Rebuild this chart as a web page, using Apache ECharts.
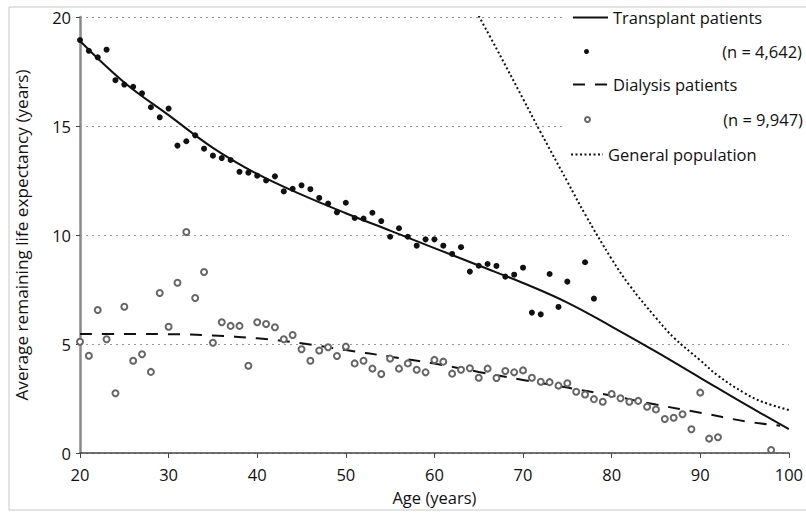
<!DOCTYPE html>
<html>
<head>
<meta charset="utf-8">
<script src="https://cdn.jsdelivr.net/npm/echarts@6/dist/echarts.min.js"></script>
<style>
  html, body { margin: 0; padding: 0; background: #fff; }
  #chart { width: 806px; height: 517px; }
</style>
</head>
<body>
<div id="chart"></div>
<script>
// 移植患者 散点（年龄 / 剩余寿命）
const transplantAges = [20, 21, 22, 23, 24, 25, 26, 27, 28, 29, 30, 31, 32, 33, 34, 35, 36, 37, 38, 39,
  40, 41, 42, 43, 44, 45, 46, 47, 48, 49, 50, 51, 52, 53, 54, 55, 56, 57, 58, 59,
  60, 61, 62, 63, 64, 65, 66, 67, 68, 69, 70, 71, 72, 73, 74, 75, 77, 78]
const transplantPoints = [18.94, 18.45, 18.15, 18.5, 17.1, 16.9, 16.8, 16.5, 15.86, 15.4, 15.8, 14.1, 14.3, 14.57, 13.96, 13.64, 13.53, 13.44, 12.9, 12.86,
  12.72, 12.5, 12.69, 12.0, 12.12, 12.28, 12.1, 11.7, 11.44, 11.04, 11.48, 10.78, 10.75, 11.02, 10.64, 9.92, 10.31, 9.92, 9.51, 9.8,
  9.8, 9.51, 9.13, 9.44, 8.32, 8.59, 8.67, 8.58, 8.09, 8.18, 8.5, 6.44, 6.36, 8.21, 6.7, 7.86, 8.75, 7.08]

// 透析患者 散点
const dialysisAges = [20, 21, 22, 23, 24, 25, 26, 27, 28, 29, 30, 31, 32, 33, 34, 35, 36, 37, 38, 39,
  40, 41, 42, 43, 44, 45, 46, 47, 48, 49, 50, 51, 52, 53, 54, 55, 56, 57, 58, 59,
  60, 61, 62, 63, 64, 65, 66, 67, 68, 69, 70, 71, 72, 73, 74, 75, 76, 77, 78, 79,
  80, 81, 82, 83, 84, 85, 86, 87, 88, 89, 90, 91, 92, 98]
const dialysisPoints = [5.1, 4.46, 6.56, 5.22, 2.74, 6.71, 4.23, 4.53, 3.72, 7.34, 5.79, 7.81, 10.14, 7.11, 8.3, 5.06, 6.0, 5.83, 5.83, 4.0,
  6.0, 5.92, 5.77, 5.22, 5.41, 4.76, 4.23, 4.7, 4.85, 4.45, 4.88, 4.11, 4.23, 3.87, 3.62, 4.33, 3.87, 4.11, 3.82, 3.7,
  4.27, 4.19, 3.64, 3.82, 3.89, 3.45, 3.87, 3.44, 3.76, 3.7, 3.79, 3.45, 3.27, 3.25, 3.09, 3.2, 2.81, 2.68, 2.47, 2.35,
  2.71, 2.51, 2.35, 2.39, 2.12, 2.0, 1.56, 1.62, 1.78, 1.09, 2.77, 0.66, 0.72, 0.14]

// 拟合曲线
const transplantCurveAges = [20, 25, 30, 35, 40, 45, 50, 55, 60, 65, 70, 75, 80, 85, 90, 95, 100]
const transplantCurve = [18.9, 17.0, 15.5, 14.0, 12.8, 11.85, 11.0, 10.2, 9.4, 8.6, 7.8, 6.9, 5.8, 4.65, 3.45, 2.25, 1.1]

const dialysisCurveAges = [20, 25, 30, 35, 40, 45, 50, 55, 60, 65, 70, 75, 80, 85, 90, 95, 99]
const dialysisCurve = [5.46, 5.46, 5.45, 5.39, 5.26, 5.03, 4.72, 4.42, 4.1, 3.72, 3.35, 3.0, 2.63, 2.22, 1.85, 1.46, 1.25]

const generalAges = [65, 67, 70, 72, 75, 77, 80, 82, 85, 87, 90, 92, 95, 97, 100]
const generalCurve = [20.05, 18.55, 16.25, 14.7, 12.45, 10.95, 8.9, 7.7, 6.2, 5.3, 4.25, 3.55, 2.75, 2.35, 1.97]

const xTicks = [20, 30, 40, 50, 60, 70, 80, 90, 100]

const FONT = '"Open Sans", "Noto Sans", sans-serif'
const zip = (xs, ys) => xs.map((x, i) => [x, ys[i]])

// 图例：每行单独一个 legend
const legendRow = (name, top, left, w, h, textWidth, align, hideSymbol) => ({
  data: [name],
  top: top,
  left: left,
  padding: 0,
  itemWidth: w,
  itemHeight: h,
  selectedMode: false,
  itemStyle: hideSymbol ? { opacity: 0 } : {},
  formatter: n => `{t|${n}}`,
  textStyle: {
    rich: {
      t: { fontFamily: FONT, fontSize: 16.5, color: '#111', width: textWidth, align: align, lineHeight: 20 }
    }
  }
})

const chart = echarts.init(document.getElementById('chart'), null, { renderer: 'svg' })

chart.setOption({
  backgroundColor: '#fff',
  animation: false,
  grid: { left: 80, right: 13, top: 17, bottom: 64 },
  graphic: [
    {
      type: 'rect', z: 0, silent: true,
      shape: { x: 9, y: 7, width: 820, height: 503 },
      style: { fill: 'none', stroke: '#c8c8c8', lineWidth: 1 }
    },
    {
      type: 'rect', z: 1, silent: true,
      shape: { x: 565, y: 8, width: 260, height: 162 },
      style: { fill: '#fff' }
    }
  ],
  legend: [
    legendRow('Transplant patients', 9, 572, 35, 14, 190, 'left', true),
    legendRow('(n = 4,642)', 43, 584, 5, 5, 208, 'right', false),
    legendRow('Dialysis patients', 76, 572, 35, 14, 190, 'left', true),
    legendRow('(n = 9,947)', 111, 584, 5, 5, 208, 'right', false),
    legendRow('General population', 146, 570, 32, 14, 190, 'left', true)
  ],
  xAxis: {
    type: 'value',
    min: 20, max: 100, interval: 10,
    name: 'Age (years)',
    nameLocation: 'middle',
    nameGap: 36,
    nameTextStyle: { fontFamily: FONT, fontSize: 16.5, color: '#111' },
    axisLine: { lineStyle: { color: '#444', width: 1.5 } },
    axisTick: { inside: false, length: 5, lineStyle: { color: '#444' } },
    axisLabel: {
      fontFamily: FONT, fontSize: 16.5, color: '#111', margin: 13,
      customValues: xTicks
    },
    splitLine: { show: false }
  },
  yAxis: {
    type: 'value',
    min: 0, max: 20, interval: 5,
    name: 'Average remaining life expectancy (years)',
    nameLocation: 'middle',
    nameGap: 50,
    nameTextStyle: { fontFamily: FONT, fontSize: 17.2, color: '#111' },
    axisLine: { show: true, lineStyle: { color: '#8a8a8a', width: 2.5 } },
    axisTick: { show: true, length: 4, lineStyle: { color: '#444' } },
    axisLabel: { fontFamily: FONT, fontSize: 16.5, color: '#111', margin: 9 },
    splitLine: { show: true, lineStyle: { color: '#999', type: [2, 4], width: 1.2 } }
  },
  series: [
    {
      name: 'Transplant patients',
      type: 'line',
      smooth: 0.4,
      symbol: 'none',
      z: 3,
      itemStyle: { color: '#111' },
      lineStyle: { color: '#111', width: 2 },
      data: zip(transplantCurveAges, transplantCurve)
    },
    {
      name: '(n = 4,642)',
      type: 'scatter',
      symbol: 'circle',
      symbolSize: 6,
      z: 4,
      itemStyle: { color: '#111', opacity: 1 },
      data: zip(transplantAges, transplantPoints)
    },
    {
      name: 'Dialysis patients',
      type: 'line',
      smooth: 0.4,
      symbol: 'none',
      z: 3,
      itemStyle: { color: '#111' },
      lineStyle: { color: '#111', width: 2, type: [12, 10] },
      data: zip(dialysisCurveAges, dialysisCurve)
    },
    {
      name: '(n = 9,947)',
      type: 'scatter',
      symbol: 'emptyCircle',
      symbolSize: 6,
      z: 4,
      itemStyle: { color: '#666', borderColor: '#666', borderWidth: 1.3, opacity: 1 },
      data: zip(dialysisAges, dialysisPoints)
    },
    {
      name: 'General population',
      type: 'line',
      smooth: 0.4,
      symbol: 'none',
      z: 3,
      itemStyle: { color: '#111' },
      lineStyle: { color: '#111', width: 2, type: [2, 2.5] },
      data: zip(generalAges, generalCurve)
    }
  ]
})
</script>
</body>
</html>
